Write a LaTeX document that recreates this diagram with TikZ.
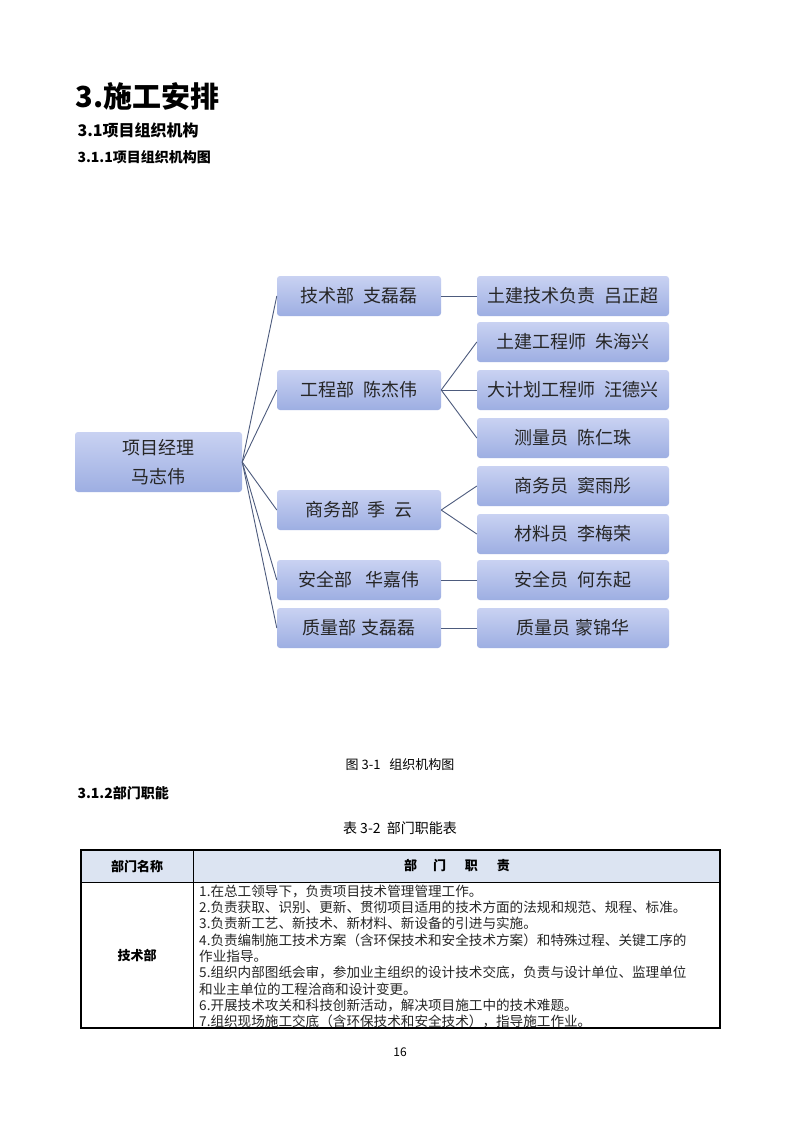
\documentclass[tikz,border=0pt]{standalone}
\usepackage{fontspec}
\setmainfont{Noto Sans CJK SC}
\begin{document}
\begin{tikzpicture}[x=1pt,y=-1pt,
  box/.style={draw=none,rounded corners=3pt,top color=boxtop,bottom color=boxbot,font=\fontsize{18}{20}\selectfont,text=black!85,inner sep=0pt},
  link/.style={draw=linec,line width=0.9pt},
  tl/.style={anchor=west,font=\fontsize{13.6}{15}\selectfont,inner sep=0pt,text=black!85}]
\definecolor{boxtop}{HTML}{C9D2F2}
\definecolor{boxbot}{HTML}{9DAEE2}
\definecolor{linec}{HTML}{4D5B7D}
\definecolor{hdr}{HTML}{DCE4F2}
\useasboundingbox[fill=white] (0,0) rectangle (800,1132);
% headings
\node[anchor=west,font=\fontsize{29}{30}\selectfont\bfseries] (h1) at (72,97) {3.施工安排};
\node[anchor=west,font=\fontsize{16}{18}\selectfont\bfseries] (h2) at (74,130) {3.1项目组织机构};
\node[anchor=west,font=\fontsize{14}{16}\selectfont\bfseries] (h3) at (74,157) {3.1.1项目组织机构图};
% chart
\node[box,minimum width=167pt,minimum height=60pt,align=center,font=\fontsize{18}{29}\selectfont] (pm) at (158.5,462) {项目经理\\马志伟};
\foreach \n/\y/\t in {d1/296/技术部\ \ 支磊磊, d2/390/工程部\ \ 陈杰伟, d3/510/商务部\ \ 季\ \ 云, d4/580/安全部\ \ \ 华嘉伟, d5/628/质量部\ 支磊磊}
  \node[box,minimum width=164pt,minimum height=40pt] (\n) at (359,\y) {\t};
\foreach \n/\y/\t in {r1/296/土建技术负责\ \ 吕正超, r2/342/土建工程师\ \ 朱海兴, r3/390/大计划工程师\ \ 汪德兴, r4/438/测量员\ \ 陈仁珠, r5/486/商务员\ \ 窦雨彤, r6/534/材料员\ \ 李梅荣, r7/580/安全员\ \ 何东起, r8/628/质量员\ 蒙锦华}
  \node[box,minimum width=192pt,minimum height=40pt] (\n) at (573,\y) {\t};
\foreach \d in {d1,d2,d3,d4,d5} \draw[link] (pm.east) -- (\d.west);
\draw[link] (d1.east) -- (r1.west);
\foreach \r in {r2,r3,r4} \draw[link] (d2.east) -- (\r.west);
\foreach \r in {r5,r6} \draw[link] (d3.east) -- (\r.west);
\draw[link] (d4.east) -- (r7.west);
\draw[link] (d5.east) -- (r8.west);
% captions
\node[font=\fontsize{13}{15}\selectfont] (cap1) at (400,765) {图\ 3-1\ \ \ 组织机构图};
\node[anchor=west,font=\fontsize{14}{16}\selectfont\bfseries] (h4) at (74,793) {3.1.2部门职能};
\node[font=\fontsize{14}{16}\selectfont] (cap2) at (400,828) {表\ 3-2\ \ 部门职能表};
% table
\fill[hdr] (81,850) rectangle (720,882);
\draw[line width=1.6pt] (81,850) rectangle (720,1028);
\draw[line width=0.8pt] (81,882) -- (720,882);
\draw[line width=0.8pt] (193,850) -- (193,1028);
\node[font=\fontsize{13}{15}\selectfont\bfseries] (c1) at (137,866) {部门名称};
\node[font=\fontsize{13}{15}\selectfont\bfseries] (c2) at (457,866) {部\quad\ 门\quad\ \ 职\quad\ \ 责};
\node[font=\fontsize{13}{15}\selectfont\bfseries] (c3) at (137,955) {技术部};
\foreach \i/\t in {0/1.在总工领导下，负责项目技术管理管理工作。,
 1/2.负责获取、识别、更新、贯彻项目适用的技术方面的法规和规范、规程、标准。,
 2/3.负责新工艺、新技术、新材料、新设备的引进与实施。,
 3/4.负责编制施工技术方案（含环保技术和安全技术方案）和特殊过程、关键工序的,
 4/作业指导。,
 5/5.组织内部图纸会审，参加业主组织的设计技术交底，负责与设计单位、监理单位,
 6/和业主单位的工程洽商和设计变更。,
 7/6.开展技术攻关和科技创新活动，解决项目施工中的技术难题。,
 8/7.组织现场施工交底（含环保技术和安全技术），指导施工作业。}
  \node[tl] (t\i) at (199,891+16.3*\i) {\t};
\node[font=\fontsize{12}{14}\selectfont] (pg) at (400,1052) {16};
\end{tikzpicture}
\end{document}
